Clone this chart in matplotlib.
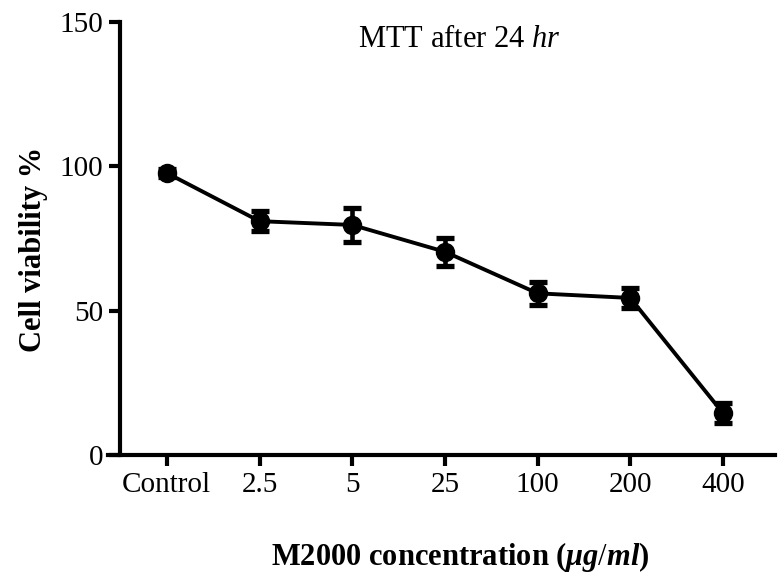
import matplotlib
matplotlib.use("Agg")
import matplotlib.pyplot as plt
import numpy as np

categories = ["Control", "2.5", "5", "25", "100", "200", "400"]
viability = [97.7, 81.0, 79.7, 70.4, 56.0, 54.4, 14.5]
errors = [1.5, 3.5, 6.0, 4.8, 4.0, 3.5, 3.5]
yticks = [0, 50, 100, 150]

plt.rcParams['font.family'] = ['Liberation Serif', 'DejaVu Serif']
plt.rcParams['mathtext.fontset'] = 'custom'
plt.rcParams['mathtext.rm'] = 'Liberation Serif'
plt.rcParams['mathtext.sf'] = 'Liberation Serif:italic'
plt.rcParams['mathtext.it'] = 'Liberation Serif:italic:bold'
plt.rcParams['mathtext.bf'] = 'Liberation Serif:bold'

fig = plt.figure(figsize=(7.78, 5.81), dpi=100)
fig.patch.set_facecolor('white')
ax = fig.add_axes([0.154, 0.217, 0.842, 0.745])

x = np.arange(len(categories))
ax.errorbar(x, viability, yerr=errors, color='black', marker='o', markersize=13,
            linewidth=2.8, elinewidth=3.3, capsize=6.5, capthick=3.8)

ax.set_xlim(-0.507, 6.56)
ax.set_ylim(0, 150)
ax.set_xticks(x)
ax.set_xticklabels(categories)
ax.set_yticks(yticks)

for s in ['top', 'right']:
    ax.spines[s].set_visible(False)
for s in ['left', 'bottom']:
    ax.spines[s].set_linewidth(3)
ax.spines['bottom'].set_bounds(-0.507 - 0.13, 6.56)
ax.spines['bottom'].set_position(('data', 0))

ax.tick_params(axis='both', which='major', length=8, width=3, labelsize=21,
               direction='out', pad=4)

ax.set_ylabel('Cell viability %', fontsize=22, fontweight='bold')
ax.yaxis.set_label_coords(-0.110, 0.476)
ax.set_xlabel(r'M2000 concentration ($\mathit{\mu g/ml}$)', fontsize=22,
              fontweight='bold')
ax.xaxis.set_label_coords(0.519, -0.196)
ax.text(0.519, 0.960, r'MTT after 24 $\mathsf{hr}$', transform=ax.transAxes,
        ha='center', va='center', fontsize=22)

fig.savefig('out.png', dpi=100, facecolor='white')
